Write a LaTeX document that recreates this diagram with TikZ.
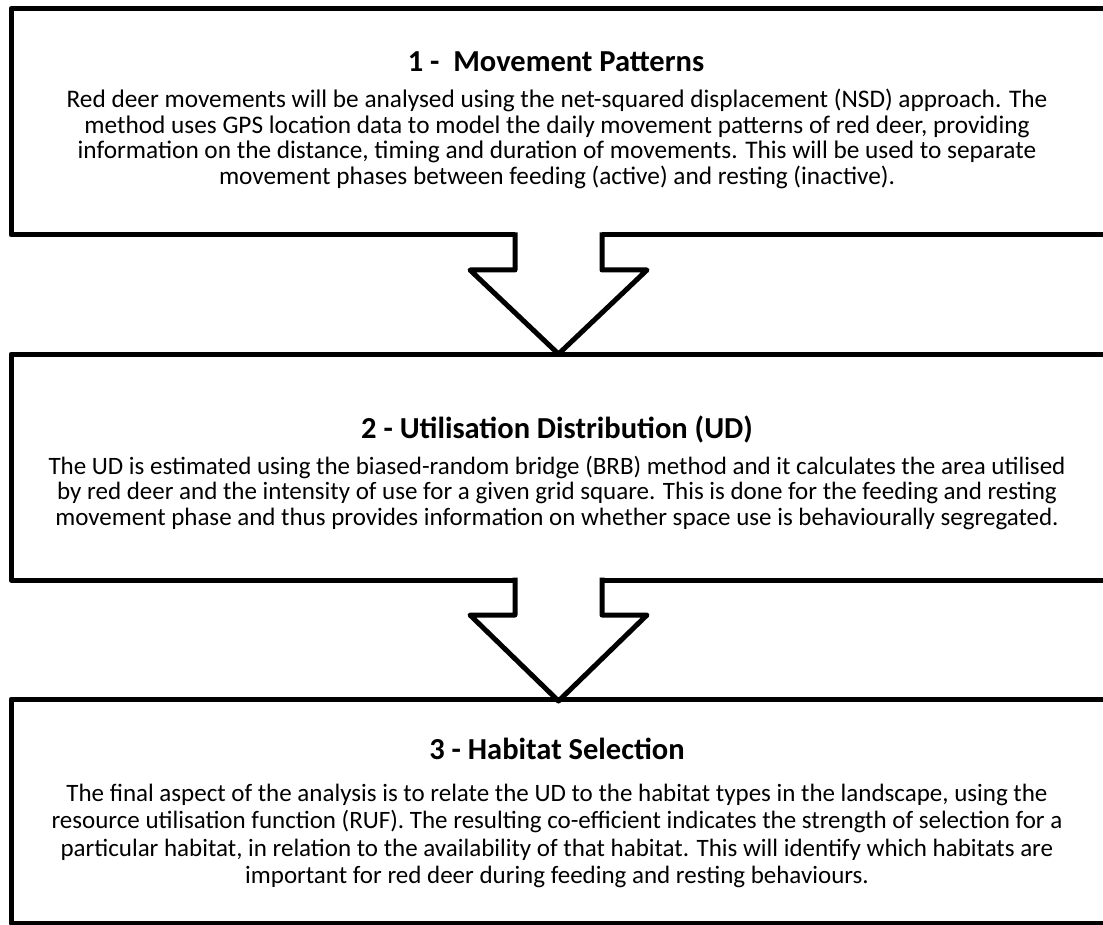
\documentclass[tikz,border=0pt]{standalone}
\usepackage{fontspec}
\setmainfont{Carlito}
\usetikzlibrary{calc}
\begin{document}
\begin{tikzpicture}[x=1pt,y=-1pt,
  box/.style={draw, line width=5pt, line join=round, rectangle, minimum width=1096pt, inner sep=0pt, outer sep=0pt},
  ttl/.style={font=\fontsize{30.5}{36}\selectfont\bfseries, anchor=base, inner sep=0pt},
  body/.style={anchor=base, inner sep=0pt},
  blockarrow/.style={draw, line width=5pt, line join=round, line cap=butt}]
\useasboundingbox[fill=white] (0,0) rectangle (1103,925);

% boxes
\node[box, minimum height=226.5pt] (b1) at (559,121.75) {};
\node[box, minimum height=226pt] (b2) at (559,467) {};
\node[box, minimum height=224pt] (b3) at (559,811) {};

% arrow 1 -> 2
\path (b1.south) ++(-0.5,0) coordinate (a1s);
\path (b2.north) ++(-0.5,0) coordinate (a1t);
\fill[white] ($(a1s)+(-43.5,-3)$) rectangle ($(a1s)+(43.5,35)$);
\draw[blockarrow] ($(a1s)+(-43.5,-2.5)$) -- ($(a1s)+(-43.5,35)$) -- ($(a1s)+(-88.5,35)$)
  -- (a1t) -- ($(a1s)+(88.5,35)$) -- ($(a1s)+(43.5,35)$) -- ($(a1s)+(43.5,-2.5)$);

% arrow 2 -> 3
\path (b2.south) ++(-0.5,0) coordinate (a2s);
\path (b3.north) ++(-0.5,2) coordinate (a2t);
\fill[white] ($(a2s)+(-43.5,-3)$) rectangle ($(a2s)+(43.5,35)$);
\draw[blockarrow] ($(a2s)+(-43.5,-2.5)$) -- ($(a2s)+(-43.5,35)$) -- ($(a2s)+(-88.5,35)$)
  -- (a2t) -- ($(a2s)+(88.5,35)$) -- ($(a2s)+(43.5,35)$) -- ($(a2s)+(43.5,-2.5)$);

% texts box 1
\node[ttl] (t1) at (556,72) {1 -\ \ Movement Patterns};
\node[body, font=\fontsize{25.3}{25.3}\selectfont] (d1) at (557,108) {\begin{tabular}[t]{@{}c@{}}
Red deer movements will be analysed using the net-squared displacement (NSD) approach. The\\
method uses GPS location data to model the daily movement patterns of red deer, providing\\
information on the distance, timing and duration of movements. This will be used to separate\\
movement phases between feeding (active) and resting (inactive).
\end{tabular}};

% texts box 2
\node[ttl] (t2) at (557,438) {2 - Utilisation Distribution (UD)};
\node[body, font=\fontsize{25}{25.5}\selectfont] (d2) at (557,474) {\begin{tabular}[t]{@{}c@{}}
The UD is estimated using the biased-random bridge (BRB) method and it calculates the area utilised\\
by red deer and the intensity of use for a given grid square. This is done for the feeding and resting\\
movement phase and thus provides information on whether space use is behaviourally segregated.
\end{tabular}};

% texts box 3
\node[ttl] (t3) at (557,759) {3 - Habitat Selection};
\node[body, font=\fontsize{25}{27.5}\selectfont] (d3) at (557,801) {\begin{tabular}[t]{@{}c@{}}
The final aspect of the analysis is to relate the UD to the habitat types in the landscape, using the\\
resource utilisation function (RUF). The resulting co-efficient indicates the strength of selection for a\\
particular habitat, in relation to the availability of that habitat. This will identify which habitats are\\
important for red deer during feeding and resting behaviours.
\end{tabular}};
\end{tikzpicture}
\end{document}
